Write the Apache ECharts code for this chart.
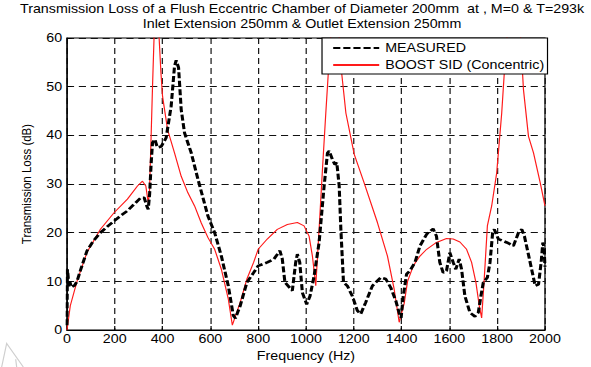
<!DOCTYPE html>
<html>
<head>
<meta charset="utf-8">
<script src="https://cdn.jsdelivr.net/npm/echarts@6/dist/echarts.min.js"></script>
<style>
html,body{margin:0;padding:0;background:#fff;overflow:hidden}
/* the figure is laid out narrower and widened to the final 591px, giving its wide lettering */
#chart{width:497px;height:367px;transform:scaleX(1.18913);transform-origin:0 0}
</style>
</head>
<body>
<div id="chart"></div>
<script>
// Measured transmission loss (dB) vs frequency (Hz)
const measuredFreq = [0, 2, 5, 8, 12, 18, 25, 32, 42, 60, 84, 110, 140, 170, 197, 225, 253, 280, 309, 323, 334, 340, 346, 352, 358, 368, 375, 380, 394, 415, 436, 450, 457, 467, 478, 492, 520, 548, 590, 618, 646, 675, 696, 705, 717, 725, 753, 781, 800, 838, 866, 891, 901, 912, 943, 957, 964, 974, 985, 1003, 1017, 1034, 1055, 1076, 1090, 1097, 1111, 1121, 1129, 1139, 1146, 1157, 1173, 1194, 1215, 1229, 1250, 1278, 1313, 1334, 1355, 1376, 1390, 1398, 1407, 1421, 1435, 1456, 1477, 1505, 1532, 1546, 1560, 1574, 1588, 1602, 1616, 1627, 1641, 1651, 1665, 1686, 1707, 1721, 1732, 1742, 1759, 1770, 1781, 1788, 1805, 1840, 1868, 1889, 1903, 1914, 1938, 1959, 1973, 1984, 1991, 1996, 2000];
const measuredTL = [1, 12.5, 11, 9, 10, 8.8, 9, 9.2, 10, 12.8, 16.3, 18.3, 20, 21.3, 22.4, 23.5, 24.5, 25.8, 27.2, 27.2, 25.5, 24.8, 28, 34, 38.5, 39.2, 38, 37.5, 37.7, 39.5, 46, 54.2, 55.4, 53.9, 45.3, 40.5, 36.4, 31, 23.4, 20, 15.2, 9.1, 3, 2.4, 4, 5, 9.8, 11.8, 13.2, 13.9, 14.6, 16.3, 14.6, 9.8, 8.1, 13.9, 15.6, 13.9, 7.7, 5.3, 7, 11.1, 18, 29.6, 36.4, 36.8, 35, 34, 34.4, 29.6, 20.7, 9.8, 9.1, 7, 4, 3.3, 5.7, 9.1, 10.8, 10.5, 8.7, 6, 3.5, 2.5, 7, 11.5, 12.2, 13.9, 17.3, 19.7, 20.8, 19.3, 13.9, 11.8, 12.2, 15.9, 13.9, 12.5, 14.6, 12.5, 7, 3.6, 2.8, 3.6, 7, 9.8, 10.8, 13.9, 20, 20.7, 18.7, 18, 17.3, 20, 20.7, 19.3, 13.9, 9.1, 9.4, 13.9, 18, 17, 13];

// BOOST SID (concentric) prediction; the resonance peaks run past the 60 dB axis top
const boostFreq = [0, 14, 42, 84, 140, 197, 253, 295, 316, 330, 340, 345, 351, 358, 365, 372, 378, 386, 393, 400, 421, 450, 478, 506, 534, 562, 590, 618, 646, 675, 692, 710, 725, 753, 781, 800, 838, 880, 922, 964, 992, 1013, 1027, 1041, 1055, 1069, 1083, 1097, 1104, 1115, 1130, 1139, 1150, 1167, 1202, 1243, 1299, 1341, 1369, 1390, 1411, 1425, 1449, 1477, 1505, 1546, 1588, 1616, 1644, 1672, 1693, 1711, 1725, 1735, 1745, 1759, 1777, 1798, 1819, 1837, 1843, 1870, 1898, 1910, 1931, 1952, 1980, 2000];
const boostTL = [0, 5, 10, 16, 20.7, 24.1, 26.9, 29.6, 30.6, 29.6, 26.2, 28, 37.8, 50, 61, 75, 66, 59.7, 53, 48, 41.2, 36.4, 31.6, 28.2, 25.5, 22, 19, 16.6, 12.5, 6.4, 1, 3.6, 5.7, 10.5, 13.9, 16.6, 18.7, 20.7, 21.7, 22.1, 21.4, 19.3, 15.2, 9.1, 20.7, 33, 44.6, 55.6, 60.5, 72, 68, 60, 52.5, 44.6, 36.1, 30.3, 22.1, 15.2, 8.4, 1.6, 5.5, 10, 13.2, 15.2, 16.6, 18, 18.8, 18.7, 18.1, 16.6, 13.9, 9.8, 5, 2.5, 9.8, 21.4, 25.5, 32.3, 44.6, 58.3, 61, 75, 60, 49.4, 39.8, 36.4, 30.3, 25.5];

const titleLines = [
  'Transmission Loss of a Flush Eccentric Chamber of Diameter 200mm  at , M=0 & T=293k',
  'Inlet Extension 250mm & Outlet Extension 250mm'
];

const pairs = (xs, ys) => xs.map((x, i) => [x, ys[i]]);
const FONT = '"Liberation Sans", Arial, sans-serif';
const GRID_DASH = [6, 4];

const chart = echarts.init(document.getElementById('chart'), null, { renderer: 'svg' });
chart.setOption({
  animation: false,
  backgroundColor: '#fff',
  grid: {
    left: 56.3, right: 38.7, top: 38, bottom: 36,
    show: true, borderColor: '#000', borderWidth: 1, backgroundColor: '#fff'
  },
  xAxis: {
    type: 'value', min: 0, max: 2000, interval: 200,
    name: 'Frequency (Hz)', nameLocation: 'middle', nameGap: 19,
    nameTextStyle: { color: '#000', fontSize: 12, fontFamily: FONT },
    axisLine: { show: true, lineStyle: { color: '#000', width: 1 } },
    axisTick: { show: true, inside: true, length: 4, lineStyle: { color: '#000' } },
    axisLabel: { color: '#000', fontSize: 12, fontFamily: FONT, margin: 3, formatter: v => String(v) },
    splitLine: { show: true, lineStyle: { color: '#111', width: 1, type: GRID_DASH } }
  },
  yAxis: {
    type: 'value', min: 0, max: 60, interval: 10,
    name: 'Transmission Loss (dB)', nameLocation: 'middle', nameGap: 24,
    nameTextStyle: { color: '#000', fontSize: 11.5, fontFamily: FONT },
    axisLine: { show: true, lineStyle: { color: '#000', width: 1 } },
    axisTick: { show: true, inside: true, length: 4, lineStyle: { color: '#000' } },
    axisLabel: { color: '#000', fontSize: 12, fontFamily: FONT, margin: 4, formatter: v => String(v) },
    splitLine: { show: true, lineStyle: { color: '#111', width: 1, type: GRID_DASH } }
  },
  legend: {
    orient: 'vertical', left: 270.8, top: 38,
    itemWidth: 38.7, itemHeight: 14, itemGap: 5,
    padding: [4, 2.5, 3, 8.4],
    borderColor: '#000', borderWidth: 1, borderRadius: 0, backgroundColor: '#fff',
    itemStyle: { opacity: 0 },
    textStyle: { color: '#000', fontSize: 12, fontFamily: FONT },
    data: ['MEASURED', 'BOOST SID (Concentric)']
  },
  series: [
    {
      name: 'BOOST SID (Concentric)', type: 'line', symbol: 'none', clip: true,
      data: pairs(boostFreq, boostTL),
      lineStyle: { color: '#ff1a1a', width: 1 }, itemStyle: { color: '#ff1a1a' }, z: 2
    },
    {
      name: 'MEASURED', type: 'line', symbol: 'none', clip: true,
      data: pairs(measuredFreq, measuredTL),
      lineStyle: { color: '#000', width: 2.6, type: [6, 2.5] }, itemStyle: { color: '#000' }, z: 3
    }
  ],
  graphic: [
    { type: 'text', x: 254, y: 3, style: { text: titleLines[0], align: 'center', verticalAlign: 'top', fill: '#000', font: '12px ' + FONT } },
    { type: 'text', x: 254, y: 17.5, style: { text: titleLines[1], align: 'center', verticalAlign: 'top', fill: '#000', font: '12px ' + FONT } },
    { type: 'polyline', shape: { points: [[1.4, 367], [5.6, 343.5], [19.6, 367]] }, style: { stroke: '#cfcfcf', lineWidth: 1, fill: null } },
    { type: 'polyline', shape: { points: [[13.2, 359.3], [14, 367]] }, style: { stroke: '#cfcfcf', lineWidth: 1, fill: null } }
  ]
});
</script>
</body>
</html>
